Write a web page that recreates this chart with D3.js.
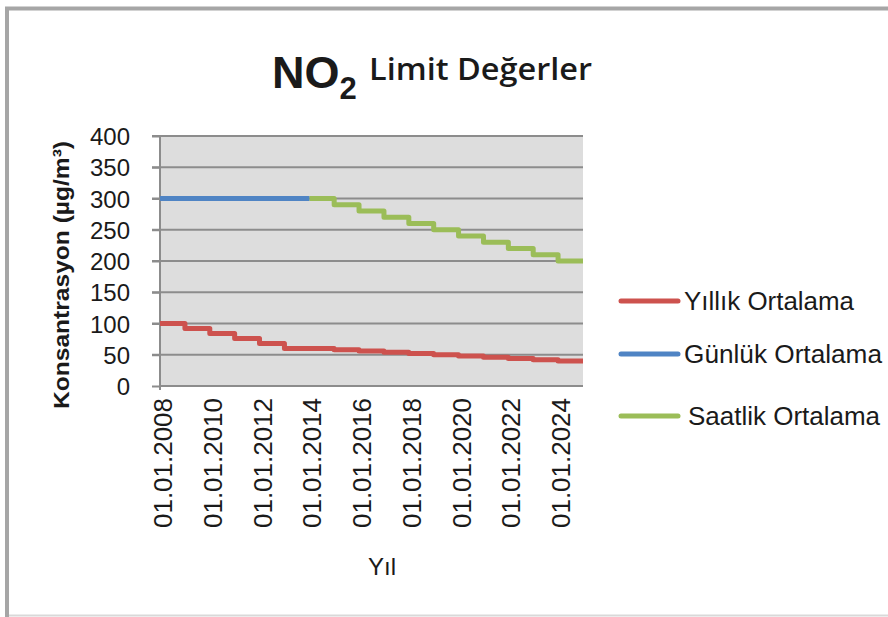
<!DOCTYPE html>
<html><head><meta charset="utf-8">
<script src="https://cdn.jsdelivr.net/npm/d3@7"></script>
<style>body{margin:0;background:#fff}svg{display:block}text{font-family:"Liberation Sans",Arial,sans-serif;fill:#1a1a1a}</style>
</head><body><svg id="c" width="888" height="617"></svg>
<script>
const yearsAnnual = [2008,2009,2010,2011,2012,2013,2014,2015,2016,2017,2018,2019,2020,2021,2022,2023,2024,2025];
const annualValues = [100,92,84,76,68,60,60,58,56,54,52,50,48,46,44,42,40,40];
const yearsDaily = [2008,2009,2010,2011,2012,2013,2014];
const dailyValues = [300,300,300,300,300,300,300];
const yearsHourly = [2014,2015,2016,2017,2018,2019,2020,2021,2022,2023,2024,2025];
const hourlyValues = [300,290,280,270,260,250,240,230,220,210,200,200];
const yTicks = [0,50,100,150,200,250,300,350,400];
const xTickYears = [2008,2010,2012,2014,2016,2018,2020,2022,2024];
const seriesNames = ["Yıllık Ortalama","Günlük Ortalama","Saatlik Ortalama"];
const seriesColors = ["#cd524e","#4f84c4","#9bbd58"];

const svg = d3.select("#c");
// outer frame
svg.append("rect").attr("x",7).attr("y",8.5).attr("width",900).attr("height",640)
  .attr("fill","#fff").attr("stroke","#a6a6a6").attr("stroke-width",4);
svg.append("line").attr("x1",9).attr("x2",888).attr("y1",615.5).attr("y2",615.5).attr("stroke","#d9d9d9").attr("stroke-width",2);

const L=160, R=583, T=136, B=386;
const x = d3.scaleTime().domain([new Date(2008,0,1), new Date(2025,0,1)]).range([L,R]);
const y = d3.scaleLinear().domain([0,400]).range([B,T]);

svg.append("rect").attr("x",L).attr("y",T).attr("width",R-L).attr("height",B-T).attr("fill","#dddddd");
// grid
svg.append("g").selectAll("line").data(yTicks.filter(d=>d>0)).join("line")
  .attr("x1",L-8).attr("x2",R).attr("y1",d=>y(d)).attr("y2",d=>y(d))
  .attr("stroke","#8c8c8c").attr("stroke-width",2);
// y axis
const ya = svg.append("g").attr("transform",`translate(${L},0)`)
  .call(d3.axisLeft(y).tickValues(yTicks).tickSize(8).tickPadding(22));
ya.select(".domain").attr("stroke","#8c8c8c").attr("stroke-width",2).attr("d",`M0,${T}V${B+4}`);
ya.selectAll(".tick line").attr("stroke","#8c8c8c").attr("stroke-width",2);
ya.selectAll(".tick text").style("font-size","24px").attr("fill","#1a1a1a").attr("dy","0.36em");
// x axis base
svg.append("line").attr("x1",L).attr("x2",R).attr("y1",B).attr("y2",B).attr("stroke","#8c8c8c").attr("stroke-width",2);

// x labels
svg.append("g").selectAll("text").data(xTickYears).join("text")
  .attr("transform",d=>`translate(${x(new Date(d,0,1))+3},398) rotate(-90)`)
  .attr("text-anchor","end").attr("dy","0.36em").style("font-size","25px")
  .attr("textLength",130).attr("lengthAdjust","spacingAndGlyphs")
  .text(d=>"01.01."+d);

// lines
const line = d3.line().curve(d3.curveStepAfter).x(d=>x(new Date(d[0],0,1))).y(d=>y(d[1]));
const series = [
  {data: yearsAnnual.map((yr,i)=>[yr,annualValues[i]]), c: seriesColors[0]},
  {data: yearsHourly.map((yr,i)=>[yr,hourlyValues[i]]), c: seriesColors[2]},
  {data: yearsDaily.map((yr,i)=>[yr,dailyValues[i]]), c: seriesColors[1]}
];
svg.append("g").selectAll("path").data(series).join("path")
  .attr("d",d=>line(d.data)).attr("fill","none").attr("stroke",d=>d.c)
  .attr("stroke-width",5).attr("stroke-linejoin","round");

// titles
const t = svg.append("text").attr("y",88).style("font-weight","bold");
t.append("tspan").attr("x",272).style("font-size","45px").text("NO");
t.append("tspan").attr("dy",11).style("font-size","31px").text("2");
svg.append("text").attr("x",369).attr("y",80).style("font-size","31px")
  .style("font-family","'Open Sans',sans-serif").style("font-weight","600")
  .attr("textLength",223).attr("lengthAdjust","spacingAndGlyphs").text("Limit Değerler");

svg.append("text").attr("transform","translate(69,275) rotate(-90)").attr("text-anchor","middle")
  .style("font-size","22px").style("font-weight","bold")
  .attr("textLength",268).attr("lengthAdjust","spacingAndGlyphs").text("Konsantrasyon (µg/m³)");
svg.append("text").attr("x",382).attr("y",575).attr("text-anchor","middle").style("font-size","24px").attr("fill","#1f2d6e").text("Yıl");

// legend
const ly = [301,354,416];
const lw = [170,198,192];
const lg = svg.append("g").selectAll("g").data(seriesNames).join("g");
lg.append("line").attr("x1",621).attr("x2",678).attr("y1",(d,i)=>ly[i]).attr("y2",(d,i)=>ly[i])
  .attr("stroke",(d,i)=>seriesColors[i]).attr("stroke-width",5).attr("stroke-linecap","round");
lg.append("text").attr("x",(d,i)=>i==2?688:684).attr("y",(d,i)=>ly[i]).attr("dy","0.36em")
  .style("font-size","25px").attr("textLength",(d,i)=>lw[i]).attr("lengthAdjust","spacingAndGlyphs").text(d=>d);
</script></body></html>
